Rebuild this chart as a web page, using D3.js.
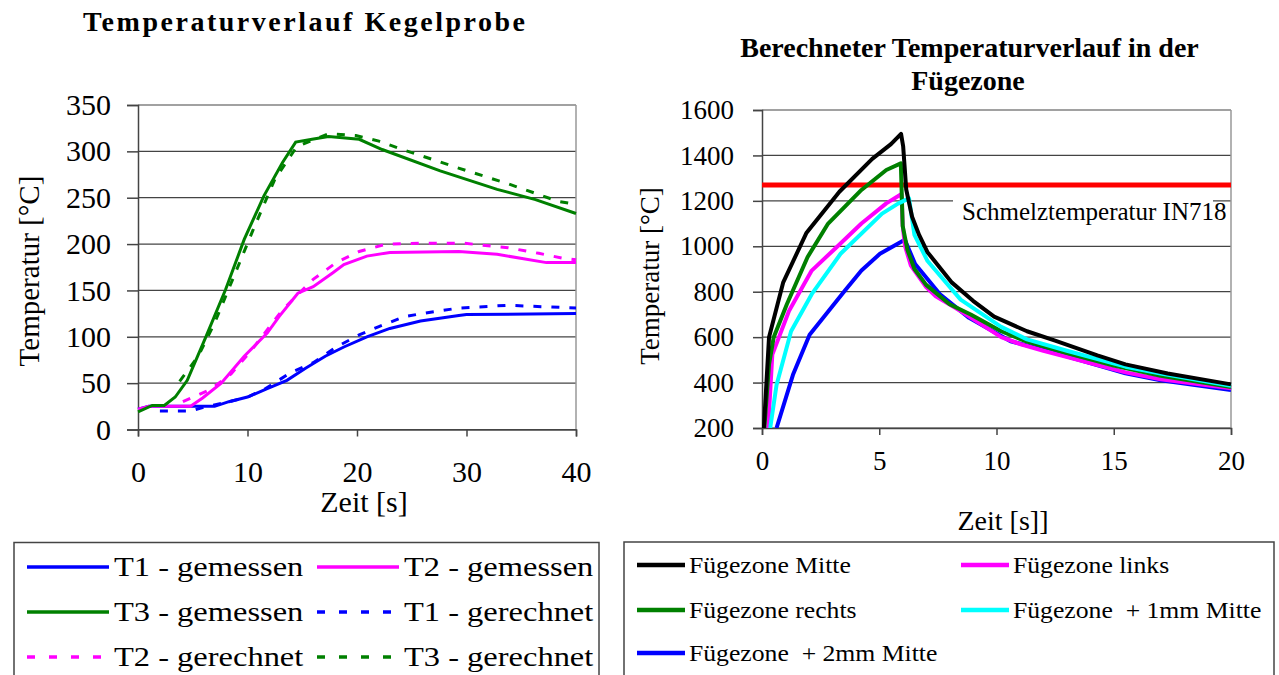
<!DOCTYPE html>
<html>
<head>
<meta charset="utf-8">
<script src="https://cdn.jsdelivr.net/npm/d3@7"></script>
<style>
  body { margin: 0; background: #fff; }
  text { font-family: "Liberation Serif", "Times New Roman", serif; fill: #000; }
</style>
</head>
<body>
<script>
// ---------------- data: left chart (Kegelprobe), [time s, temperature °C]
var t1Gemessen = [[0,22],[1,25],[5,25],[7,25],[8.3,30],[10,35],[11.8,44],[13.6,53],[15.3,66],[17.1,79],[18.8,89],[20.9,100],[23,109],[25.8,117],[29.3,123],[30,124],[40,125]];
var t2Gemessen = [[0,22],[1,25],[4.8,25],[5.9,34],[7.6,50],[9.7,79],[11.8,104],[12.9,122],[14.6,147],[16,154],[17.8,169],[18.8,178],[20.9,187],[23,191],[29.3,192],[32.8,189],[37.3,180],[40,180]];
var t3Gemessen = [[0,19],[1.3,26],[2.4,26],[3.4,35],[4.5,53],[6.2,100],[8,151],[9.7,205],[11.5,252],[13.2,288],[14.4,310],[15.9,313],[17.4,316],[20.2,313],[22.3,302],[27.6,279],[32.8,259],[36.3,248],[40,233]];
var t1Gerechnet = [[2,20],[4.8,20],[6,24],[8,29],[10,35],[11.5,43],[13.9,61],[16,72],[18.1,89],[20.2,102],[22,111],[24.4,122],[27,127],[29.3,131],[33.8,134],[40,131]];
var t2Gerechnet = [[4.1,30],[6.6,43],[8.5,60],[10.4,86],[13.2,129],[16,162],[18.1,180],[20.2,192],[22.7,200],[25.8,201],[29.7,201],[33.8,196],[36.6,190],[38.7,185],[40,183]];
var t3Gerechnet = [[3.8,52],[5.5,79],[7,115],[9,172],[10.5,215],[12.5,270],[14.5,305],[17.4,319],[19.9,317],[22,311],[24.4,301],[29,283],[33.8,265],[38.4,246],[40,243]];

var leftXTicks = [0, 10, 20, 30, 40];
var leftYTicks = [0, 50, 100, 150, 200, 250, 300, 350];

// ---------------- data: right chart (Fügezone), [time s, temperature °C]
var fzMitte = [[0.08,200],[0.3,600],[0.9,840],[1.9,1060],[3.3,1240],[4.7,1385],[5.5,1450],[5.93,1495],[6.02,1440],[6.15,1250],[6.4,1130],[6.7,1050],[7.05,975],[8.1,840],[9,760],[9.9,690],[11.3,626],[12.5,585],[14.3,520],[15.5,480],[17.3,440],[20,392]];
var fzRechts = [[0.1,200],[0.3,480],[0.5,600],[1.06,745],[1.94,952],[2.82,1100],[4.24,1248],[5.3,1336],[5.92,1365],[6.0,1090],[6.2,985],[6.5,900],[7,830],[8,745],[8.9,700],[10.2,626],[11.3,580],[13,530],[15,475],[17,430],[20,380]];
var fzLinks = [[0.26,200],[0.44,523],[1.15,715],[2.12,893],[3.18,996],[4.24,1100],[5.3,1189],[5.95,1230],[6.0,1090],[6.1,1000],[6.35,915],[7,820],[7.41,780],[8.47,715],[10.2,600],[11,570],[12,540],[15.5,445],[17,415],[20,375]];
var fz1mm = [[0.35,200],[0.62,389],[1.24,626],[2.12,789],[3.35,967],[5.12,1144],[5.82,1189],[6.27,1211],[6.5,1050],[7.06,935],[8.47,765],[10.2,645],[11.3,590],[13,540],[15.5,470],[17,440],[20,386]];
var fz2mm = [[0.62,200],[1.32,434],[2.03,611],[3.53,804],[4.24,893],[5.03,967],[6.09,1029],[6.53,922],[7.59,789],[8.83,685],[10.6,582],[12,545],[15.5,441],[17,410],[20,367]];
var schmelzTemp = 1270;

var rightXTicks = [0, 5, 10, 15, 20];
var rightYTicks = [200, 400, 600, 800, 1000, 1200, 1400, 1600];

// ---------------- svg
var svg = d3.select('body').append('svg')
    .attr('width', 1279)
    .attr('height', 675);

// stretch a text horizontally (the source picture is a bit wide)
function stretch(sel, x, y, sx) {
  sel.attr('transform', 'translate(' + x + ',' + y + ') scale(' + sx + ',1)');
}

// ======================================================== left chart
var xL = d3.scaleLinear().domain([0, 40]).range([138, 576]);
var yL = d3.scaleLinear().domain([0, 350]).range([429.5, 105]);
var gL = svg.append('g');

gL.selectAll('line.grid').data(leftYTicks).enter().append('line')
    .attr('x1', xL(0)).attr('x2', xL(40))
    .attr('y1', d => yL(d)).attr('y2', d => yL(d))
    .attr('stroke', '#444').attr('stroke-width', 1.2);
gL.append('line')
    .attr('x1', xL(40)).attr('x2', xL(40)).attr('y1', yL(350)).attr('y2', yL(0))
    .attr('stroke', '#999').attr('stroke-width', 1.5);

var axLY = gL.append('g').attr('transform', 'translate(' + xL(0) + ',0)')
    .call(d3.axisLeft(yL).tickValues(leftYTicks).tickFormat(d3.format('d')).tickSize(11).tickPadding(16));
var axLX = gL.append('g').attr('transform', 'translate(0,' + yL(0) + ')')
    .call(d3.axisBottom(xL).tickValues(leftXTicks).tickFormat(d3.format('d')).tickSize(7).tickPadding(24));
[axLY, axLX].forEach(function(a) {
  a.selectAll('path, line').attr('stroke', '#444').attr('stroke-width', 1.5);
  a.selectAll('text').style('font-family', '"Liberation Serif", serif').style('font-size', '30px').attr('fill', '#000');
});

var lineL = d3.line().x(d => xL(d[0])).y(d => yL(d[1]));
var leftSeries = [
  { data: t1Gemessen, color: '#0000ff', dash: null },
  { data: t2Gemessen, color: '#ff00ff', dash: null },
  { data: t3Gemessen, color: '#008000', dash: null },
  { data: t1Gerechnet, color: '#0000ff', dash: '8,10' },
  { data: t2Gerechnet, color: '#ff00ff', dash: '8,10' },
  { data: t3Gerechnet, color: '#008000', dash: '8,10' }
];
gL.selectAll('path.series').data(leftSeries).enter().append('path')
    .attr('class', 'series')
    .attr('d', d => lineL(d.data))
    .attr('fill', 'none')
    .attr('stroke', d => d.color)
    .attr('stroke-width', 3)
    .attr('stroke-dasharray', d => d.dash);

svg.append('text').attr('x', 304).attr('y', 31)
    .attr('text-anchor', 'middle')
    .style('font-size', '28px').style('font-weight', 'bold')
    .attr('textLength', 442).attr('lengthAdjust', 'spacing')
    .text('Temperaturverlauf Kegelprobe');
svg.append('text')
    .attr('transform', 'translate(29,271) rotate(-90)')
    .attr('text-anchor', 'middle').attr('dominant-baseline', 'central')
    .style('font-size', '29px')
    .text('Temperatur [°C]');
svg.append('text').attr('x', 364).attr('y', 512)
    .attr('text-anchor', 'middle')
    .style('font-size', '30px')
    .text('Zeit [s]');

// legend left
var legLeft = [
  { name: 'T1 - gemessen', color: '#0000ff', dash: null, col: 0, row: 0 },
  { name: 'T2 - gemessen', color: '#ff00ff', dash: null, col: 1, row: 0 },
  { name: 'T3 - gemessen', color: '#008000', dash: null, col: 0, row: 1 },
  { name: 'T1 - gerechnet', color: '#0000ff', dash: '8,14', col: 1, row: 1 },
  { name: 'T2 - gerechnet', color: '#ff00ff', dash: '8,14', col: 0, row: 2 },
  { name: 'T3 - gerechnet', color: '#008000', dash: '8,14', col: 1, row: 2 }
];
svg.append('rect').attr('x', 14).attr('y', 542.5).attr('width', 585).attr('height', 150)
    .attr('fill', 'none').attr('stroke', '#444').attr('stroke-width', 1.5);
var lcolX = [27, 317], lrowY = [567, 612, 657];
var legL = svg.selectAll('g.legL').data(legLeft).enter().append('g');
legL.append('line')
    .attr('x1', d => lcolX[d.col]).attr('x2', d => lcolX[d.col] + 82)
    .attr('y1', d => lrowY[d.row]).attr('y2', d => lrowY[d.row])
    .attr('stroke', d => d.color).attr('stroke-width', 3.5)
    .attr('stroke-dasharray', d => d.dash);
legL.append('text')
    .attr('dominant-baseline', 'central')
    .style('font-size', '28px')
    .each(function(d) { stretch(d3.select(this), lcolX[d.col] + 87, lrowY[d.row], 1.16); })
    .text(d => d.name);

// ======================================================== right chart
var xR = d3.scaleLinear().domain([0, 20]).range([762, 1231]);
var yR = d3.scaleLinear().domain([200, 1600]).range([428, 110]);
var gR = svg.append('g');

gR.selectAll('line.grid').data(rightYTicks).enter().append('line')
    .attr('x1', xR(0)).attr('x2', xR(20))
    .attr('y1', d => yR(d)).attr('y2', d => yR(d))
    .attr('stroke', '#444').attr('stroke-width', 1.2);
gR.append('line')
    .attr('x1', xR(20)).attr('x2', xR(20)).attr('y1', yR(1600)).attr('y2', yR(200))
    .attr('stroke', '#999').attr('stroke-width', 1.5);

var axRY = gR.append('g').attr('transform', 'translate(' + xR(0) + ',0)')
    .call(d3.axisLeft(yR).tickValues(rightYTicks).tickFormat(d3.format('d')).tickSize(9).tickPadding(19));
var axRX = gR.append('g').attr('transform', 'translate(0,' + yR(200) + ')')
    .call(d3.axisBottom(xR).tickValues(rightXTicks).tickFormat(d3.format('d')).tickSize(7).tickPadding(16));
[axRY, axRX].forEach(function(a) {
  a.selectAll('path, line').attr('stroke', '#444').attr('stroke-width', 1.5);
  a.selectAll('text').style('font-family', '"Liberation Serif", serif').style('font-size', '27px').attr('fill', '#000');
});

// label of the melting line, with white box cutting the 1200 gridline
gR.append('rect').attr('x', 953).attr('y', 198).attr('width', 260).attr('height', 28).attr('fill', '#fff');
gR.append('text').attr('x', 962).attr('y', 220)
    .style('font-size', '25px')
    .text('Schmelztemperatur IN718');

gR.append('line')
    .attr('x1', xR(0)).attr('x2', xR(20))
    .attr('y1', yR(schmelzTemp)).attr('y2', yR(schmelzTemp))
    .attr('stroke', '#ff0000').attr('stroke-width', 5);

svg.append('clipPath').attr('id', 'clipR').append('rect')
    .attr('x', xR(0)).attr('y', yR(1600) - 10).attr('width', xR(20) - xR(0) + 4).attr('height', yR(200) - yR(1600) + 10);

var lineR = d3.line().x(d => xR(d[0])).y(d => yR(d[1]));
var rightSeries = [
  { name: 'Fügezone Mitte', data: fzMitte, color: '#000000', col: 0, row: 0 },
  { name: 'Fügezone links', data: fzLinks, color: '#ff00ff', col: 1, row: 0 },
  { name: 'Fügezone rechts', data: fzRechts, color: '#008000', col: 0, row: 1 },
  { name: 'Fügezone  + 1mm Mitte', data: fz1mm, color: '#00ffff', col: 1, row: 1 },
  { name: 'Fügezone  + 2mm Mitte', data: fz2mm, color: '#0000ff', col: 0, row: 2 }
];
var drawOrder = [fz2mm, fzLinks, fzRechts, fz1mm, fzMitte];
gR.append('g').attr('clip-path', 'url(#clipR)')
  .selectAll('path').data(drawOrder).enter().append('path')
    .attr('d', d => lineR(d))
    .attr('fill', 'none')
    .attr('stroke', d => rightSeries.find(s => s.data === d).color)
    .attr('stroke-width', 4)
    .attr('stroke-linejoin', 'round');

svg.append('text').attr('x', 969.5).attr('y', 57)
    .attr('text-anchor', 'middle')
    .style('font-size', '28px').style('font-weight', 'bold')
    .text('Berechneter Temperaturverlauf in der');
svg.append('text').attr('x', 968).attr('y', 90)
    .attr('text-anchor', 'middle')
    .style('font-size', '28px').style('font-weight', 'bold')
    .text('Fügezone');
svg.append('text')
    .attr('transform', 'translate(650,276) rotate(-90)')
    .attr('text-anchor', 'middle').attr('dominant-baseline', 'central')
    .style('font-size', '27px')
    .text('Temperatur [°C]');
svg.append('text').attr('x', 1003).attr('y', 530)
    .attr('text-anchor', 'middle')
    .style('font-size', '28px')
    .text('Zeit [s]]');

// legend right
svg.append('rect').attr('x', 624).attr('y', 542).attr('width', 650).attr('height', 150)
    .attr('fill', 'none').attr('stroke', '#444').attr('stroke-width', 1.5);
var rcolX = [637, 961], rrowY = [565, 610, 653];
var legR = svg.selectAll('g.legR').data(rightSeries).enter().append('g');
legR.append('line')
    .attr('x1', d => rcolX[d.col]).attr('x2', d => rcolX[d.col] + 48)
    .attr('y1', d => rrowY[d.row]).attr('y2', d => rrowY[d.row])
    .attr('stroke', d => d.color).attr('stroke-width', 4.5);
legR.append('text')
    .attr('dominant-baseline', 'central')
    .style('font-size', '24px').style('white-space', 'pre')
    .each(function(d) { stretch(d3.select(this), rcolX[d.col] + 52, rrowY[d.row], 1.07); })
    .text(d => d.name);
</script>
</body>
</html>
